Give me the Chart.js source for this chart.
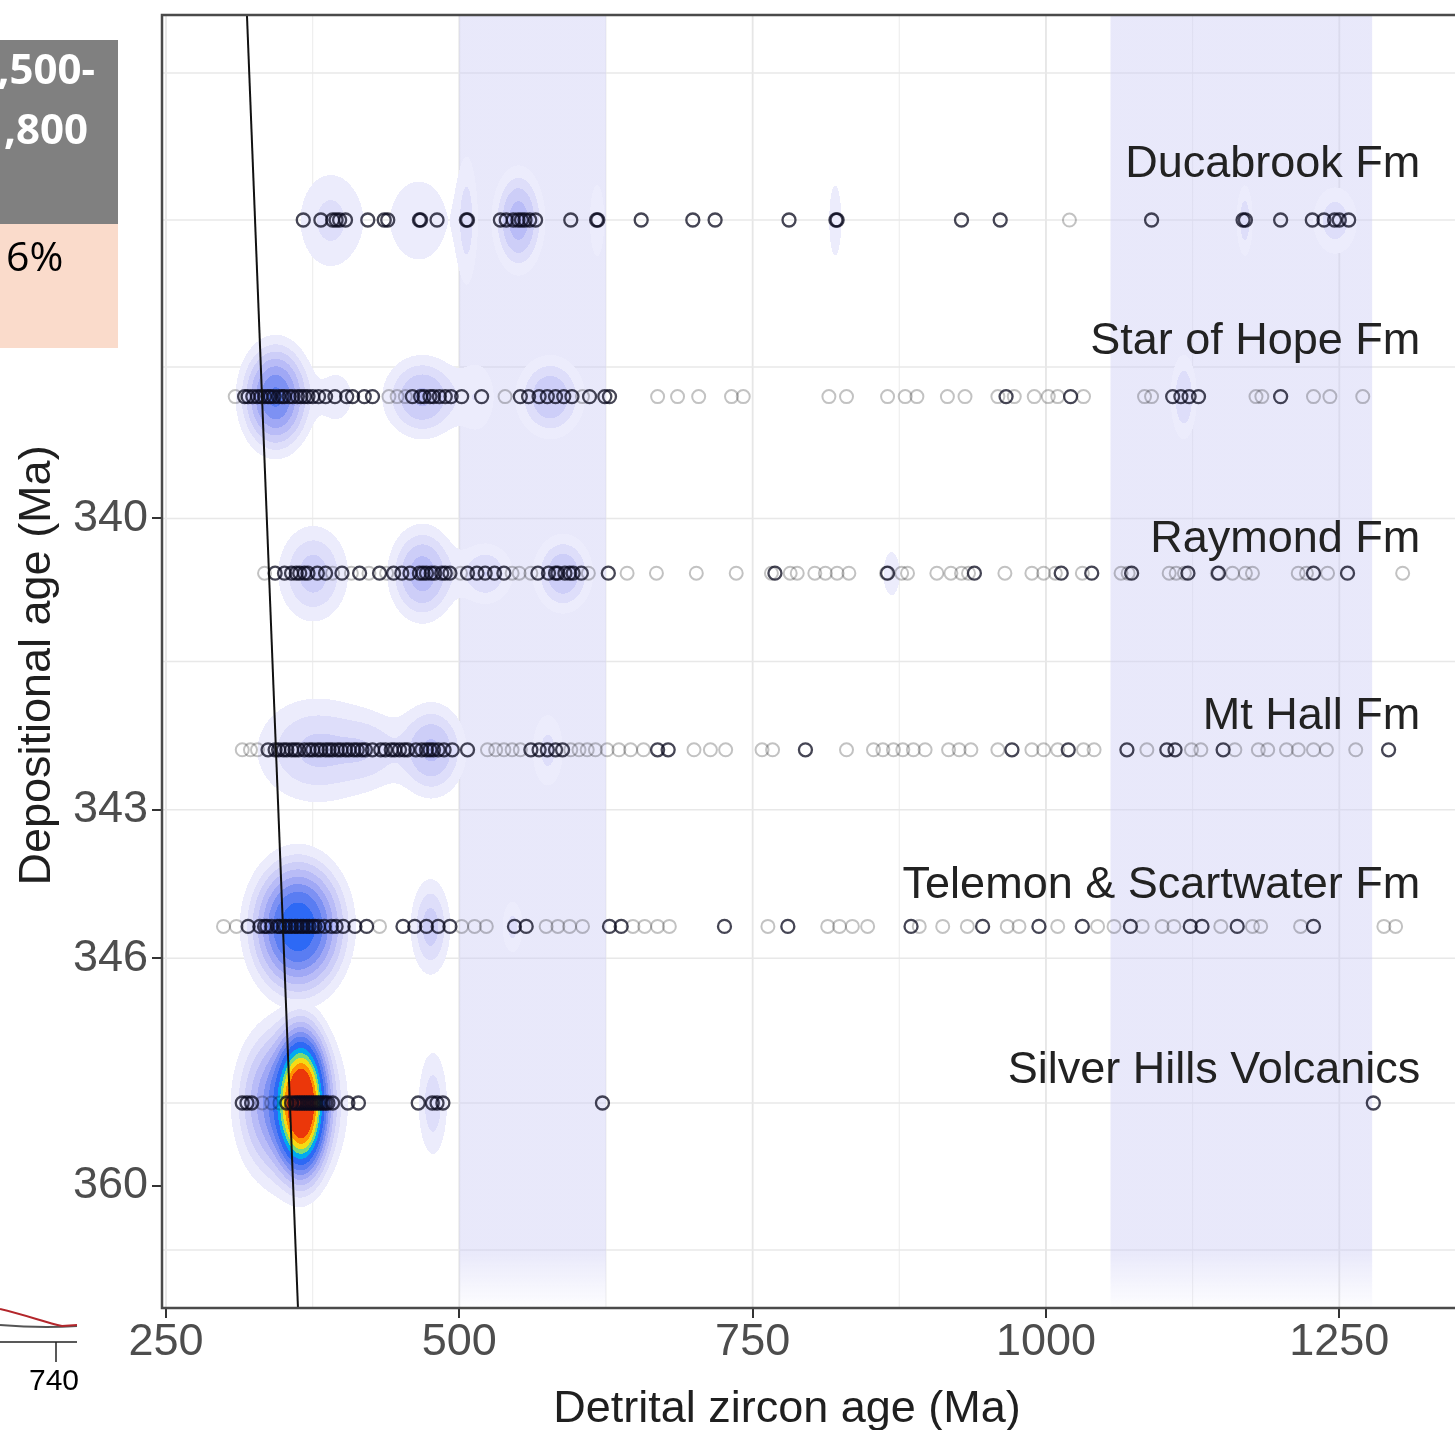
<!DOCTYPE html>
<html>
<head>
<meta charset="utf-8">
<title>Detrital zircon ages by formation</title>
<script src="https://cdn.jsdelivr.net/npm/chart.js@4.4.1/dist/chart.umd.min.js"></script>
<style>
  html, body { margin: 0; padding: 0; background: #fff; width: 1455px; height: 1430px; overflow: hidden; }
  #zirconChart { position: absolute; left: 0; top: 0; width: 1470px; height: 1430px; }
  #edge { position: absolute; left: 0; top: 0; }
</style>
</head>
<body>
<canvas id="zirconChart" width="1470" height="1430"></canvas>

<!-- neighbouring panel that runs into the left margin -->
<svg id="edge" width="170" height="1430">
  <rect x="0" y="40" width="118" height="184" fill="#808080"/>
  <rect x="0" y="224" width="118" height="124" fill="#fadbcb"/>
  <text x="95" y="84" text-anchor="end" font-family="Open Sans" font-weight="700" font-size="42" fill="#fff">1,500-</text>
  <text x="88" y="144" text-anchor="end" font-family="Open Sans" font-weight="700" font-size="42" fill="#fff">1,800</text>
  <text x="6" y="271" font-family="Open Sans" font-size="41" fill="#000">6%</text>
  <path d="M0,1325 C25,1327 45,1328 77,1326" stroke="#555" stroke-width="2" fill="none"/>
  <path d="M0,1309 C25,1315 45,1322 62,1326 L77,1325" stroke="#b3262b" stroke-width="2" fill="none"/>
  <line x1="0" y1="1342" x2="77" y2="1342" stroke="#222" stroke-width="1.5"/>
  <line x1="56" y1="1342" x2="56" y2="1362" stroke="#222" stroke-width="1.5"/>
  <text x="54" y="1390" text-anchor="middle" font-family="Liberation Sans" font-size="30" fill="#000">740</text>
</svg>

<script>
// formations, top to bottom (row index = y value)
const formations = ['Ducabrook Fm', 'Star of Hope Fm', 'Raymond Fm', 'Mt Hall Fm', 'Telemon & Scartwater Fm', 'Silver Hills Volcanics']

// depositional age axis: tick labels and where they sit in row units
const depTickLabels = ['340', '343', '346', '360']
const depTickRows = [1.69, 3.34, 4.18, 5.47]
const depGridRows = [-0.833, 0, 0.833, 1.69, 2.5, 3.34, 4.18, 5, 5.833]

// detrital zircon age axis (Ma)
const ageTicks = [250, 500, 750, 1000, 1250]
const ageGrid = [250, 375, 500, 625, 750, 875, 1000, 1125, 1250]

// shaded age windows (Ma)
const bandStart = [500, 1055]
const bandEnd = [625, 1278]

// 1:1 reference line, age at top and bottom of the panel
const refLineAge = [319, 362.5]
const refLineRow = [-1.161, 6.161]

// grain ages (Ma), well constrained and poorly constrained
const ducabrookDark = [367, 382, 392, 395, 398, 403, 422, 436, 439, 466, 467, 481, 506, 507, 535, 540, 546, 550, 553, 556, 560, 565, 595, 617, 618, 655, 699, 718, 781, 821, 822, 928, 961, 1090, 1168, 1170, 1200, 1227, 1237, 1246, 1250, 1258]
const ducabrookFaint = [1020]
const starDark = [317, 320, 324, 328, 331, 334, 337, 339, 342, 346, 349, 351, 355, 358, 362, 365, 368, 371, 375, 380, 386, 394, 404, 409, 419, 426, 460, 467, 470, 475, 478, 483, 488, 493, 502, 519, 552, 559, 568, 575, 582, 589, 596, 611, 624, 628, 966, 1021, 1108, 1115, 1122, 1130, 1200]
const starFaint = [309, 440, 447, 454, 539, 605, 669, 686, 704, 732, 742, 815, 830, 865, 880, 890, 916, 931, 959, 973, 990, 1002, 1010, 1032, 1084, 1090, 1179, 1184, 1228, 1242, 1270]
const raymondDark = [343, 351, 357, 361, 364, 368, 371, 379, 386, 400, 415, 432, 444, 451, 458, 466, 469, 472, 476, 479, 485, 488, 492, 507, 515, 522, 530, 538, 567, 576, 582, 584, 590, 594, 597, 604, 627, 769, 865, 939, 1013, 1039, 1073, 1121, 1147, 1228, 1257]
const raymondFaint = [334, 392, 408, 423, 438, 501, 545, 551, 561, 610, 643, 668, 702, 736, 766, 782, 788, 803, 812, 822, 832, 864, 877, 882, 907, 919, 928, 934, 965, 988, 998, 1008, 1031, 1064, 1070, 1105, 1111, 1118, 1146, 1159, 1170, 1176, 1215, 1222, 1240, 1304]
const mtHallDark = [337, 343, 346, 350, 353, 357, 360, 363, 368, 372, 375, 379, 382, 386, 389, 392, 396, 399, 403, 406, 410, 413, 417, 420, 426, 433, 437, 442, 445, 449, 453, 456, 463, 468, 472, 475, 478, 482, 487, 494, 507, 561, 568, 575, 582, 588, 669, 678, 795, 971, 1019, 1069, 1103, 1110, 1151, 1292]
const mtHallFaint = [315, 322, 328, 524, 531, 538, 545, 552, 595, 602, 609, 616, 626, 636, 646, 657, 700, 714, 727, 758, 767, 830, 853, 861, 870, 878, 887, 897, 917, 926, 936, 959, 988, 998, 1010, 1032, 1041, 1086, 1124, 1132, 1161, 1181, 1189, 1205, 1215, 1228, 1239, 1264]
const telemonDark = [320, 330, 334, 336, 340, 345, 347, 350, 352, 355, 357, 360, 362, 365, 367, 370, 372, 375, 377, 380, 385, 391, 395, 401, 411, 421, 452, 462, 472, 482, 492, 547, 557, 628, 638, 726, 780, 885, 946, 994, 1031, 1072, 1123, 1133, 1163, 1228]
const telemonFaint = [299, 310, 432, 502, 513, 523, 574, 584, 594, 605, 648, 658, 669, 679, 763, 814, 824, 835, 848, 892, 912, 933, 967, 977, 1010, 1044, 1058, 1082, 1099, 1109, 1149, 1176, 1183, 1217, 1288, 1298]
const silverDark = [315, 319, 323, 353, 357, 360, 362, 364, 366, 368, 370, 372, 374, 376, 378, 380, 382, 384, 386, 388, 392, 405, 414, 465, 477, 481, 486, 622, 1279]
const silverFaint = [332, 340, 347]

// density kernels per formation: [age Ma, sd Ma, sd rows, peak]
const ducabrookBlobs = [[390, 19, 0.19, 0.03], [465, 21, 0.2, 0.022], [506, 6.3, 0.26, 0.03], [550, 12, 0.163, 0.075], [617, 6, 0.2, 0.02], [820, 5.7, 0.22, 0.018], [1169, 4.7, 0.136, 0.035], [1246, 12.8, 0.128, 0.035]]
const starBlobs = [[343, 15, 0.155, 0.16], [395, 12, 0.12, 0.02], [468, 18.5, 0.13, 0.065], [515, 11.6, 0.155, 0.022], [577, 16.6, 0.133, 0.06], [1117, 7.2, 0.154, 0.04]]
const raymondBlobs = [[375, 17.6, 0.16, 0.05], [468, 15.6, 0.148, 0.075], [522, 14.8, 0.11, 0.04], [588, 14.3, 0.126, 0.06], [868, 6.8, 0.12, 0.02]]
const mtHallBlobs = [[378, 31, 0.18, 0.045], [425, 18, 0.13, 0.025], [476, 16.2, 0.148, 0.065], [575, 9.5, 0.147, 0.03]]
const telemonBlobs = [[362, 20, 0.19, 0.26], [475, 10, 0.16, 0.05], [545, 6.3, 0.105, 0.03]]
const silverBlobs = [[365, 10.2, 0.187, 0.86], [360, 20, 0.23, 0.14], [338, 17, 0.22, 0.06], [477, 8.2, 0.195, 0.035]]

// contour breaks and fill colours
const densityBreaks = [0.012, 0.025, 0.04, 0.06, 0.085, 0.115, 0.15, 0.2, 0.27, 0.34, 0.41, 0.5, 0.6]
const densityColors = [
  [236, 236, 252], [222, 222, 250], [205, 206, 248], [185, 188, 247], [160, 168, 245],
  [125, 145, 243], [90, 125, 242], [45, 105, 245], [0, 170, 240], [120, 220, 120],
  [245, 220, 20], [255, 145, 0], [235, 55, 10],
]

// label lift above each row, in row units
const labelLift = [0.243, 0.243, 0.119, 0.119, 0.159, 0.113]
const labelAge = 1319

const darkSets = [ducabrookDark, starDark, raymondDark, mtHallDark, telemonDark, silverDark]
const faintSets = [ducabrookFaint, starFaint, raymondFaint, mtHallFaint, telemonFaint, silverFaint]
const blobSets = [ducabrookBlobs, starBlobs, raymondBlobs, mtHallBlobs, telemonBlobs, silverBlobs]

const FONT = "'Liberation Sans', Arial, sans-serif"

function line(ctx, x1, y1, x2, y2) {
  ctx.beginPath()
  ctx.moveTo(x1, y1)
  ctx.lineTo(x2, y2)
  ctx.stroke()
}

// grid, shaded windows and density contours under the points
const backdrop = {
  id: 'backdrop',
  beforeDatasetsDraw(chart) {
    const { ctx, chartArea: a, scales: { x, y } } = chart
    ctx.save()
    ctx.beginPath()
    ctx.rect(a.left, a.top, a.width, a.height)
    ctx.clip()

    ageGrid.forEach((v, i) => {
      ctx.strokeStyle = i % 2 === 0 ? '#e6e6e6' : '#efefef'
      ctx.lineWidth = i % 2 === 0 ? 1.8 : 1.2
      const p = x.getPixelForValue(v)
      line(ctx, p, a.top, p, a.bottom)
    })
    depGridRows.forEach(v => {
      ctx.strokeStyle = '#e8e8e8'
      ctx.lineWidth = 1.5
      const p = y.getPixelForValue(v)
      line(ctx, a.left, p, a.right, p)
    })

    const fade = ctx.createLinearGradient(0, a.top, 0, a.bottom)
    fade.addColorStop(0, 'rgba(205,205,245,0.45)')
    fade.addColorStop(0.955, 'rgba(205,205,245,0.45)')
    fade.addColorStop(1, 'rgba(205,205,245,0.04)')
    ctx.fillStyle = fade
    bandStart.forEach((s, i) => {
      const x0 = x.getPixelForValue(s)
      const x1 = x.getPixelForValue(bandEnd[i])
      ctx.fillRect(x0, a.top, x1 - x0, a.height)
    })

    // kernel density rasterised row by row
    const w = Math.ceil(a.width)
    const h = Math.ceil(a.height)
    const off = document.createElement('canvas')
    off.width = w
    off.height = h
    const octx = off.getContext('2d')
    const img = octx.createImageData(w, h)
    const data = img.data
    const rowPx = Math.abs(y.getPixelForValue(1) - y.getPixelForValue(0))
    const maPx = x.getPixelForValue(1) - x.getPixelForValue(0)

    blobSets.forEach((blobs, r) => {
      const cy = y.getPixelForValue(r) - a.top
      const ks = blobs.map(b => ({
        cx: x.getPixelForValue(b[0]) - a.left,
        sx: b[1] * maPx,
        sy: b[2] * rowPx,
        p: b[3],
      }))
      const y0 = Math.max(0, Math.floor(cy - 0.6 * rowPx))
      const y1 = Math.min(h, Math.ceil(cy + 0.6 * rowPx))
      for (let py = y0; py < y1; py++) {
        for (let px = 0; px < w; px++) {
          let d = 0
          for (const k of ks) {
            const dx = (px - k.cx) / k.sx
            const dy = (py - cy) / k.sy
            const q = dx * dx + dy * dy
            if (q < 30) d += k.p * Math.exp(-0.5 * q)
          }
          let lv = -1
          while (lv + 1 < densityBreaks.length && d >= densityBreaks[lv + 1]) lv++
          if (lv < 0) continue
          const c = densityColors[lv]
          const i = (py * w + px) * 4
          data[i] = c[0]
          data[i + 1] = c[1]
          data[i + 2] = c[2]
          data[i + 3] = 255
        }
      }
    })
    octx.putImageData(img, 0, 0)
    ctx.drawImage(off, a.left, a.top)
    ctx.restore()
  },
}

// panel border, formation names and axis titles
const overlay = {
  id: 'overlay',
  afterDatasetsDraw(chart) {
    const { ctx, chartArea: a, scales: { x, y } } = chart
    ctx.save()
    ctx.font = `45px ${FONT}`
    ctx.fillStyle = '#222'
    ctx.textAlign = 'right'
    ctx.textBaseline = 'alphabetic'
    formations.forEach((name, r) => {
      ctx.fillText(name, x.getPixelForValue(labelAge), y.getPixelForValue(r - labelLift[r]))
    })

    ctx.strokeStyle = '#4a4a4a'
    ctx.lineWidth = 2.5
    ctx.strokeRect(a.left, a.top, a.width, a.height)

    ctx.fillStyle = '#1f1f1f'
    ctx.textAlign = 'center'
    ctx.fillText('Detrital zircon age (Ma)', 787, 1422)
    ctx.translate(50, (a.top + a.bottom) / 2 + 4)
    ctx.rotate(-Math.PI / 2)
    ctx.fillText('Depositional age (Ma)', 0, 0)
    ctx.restore()
  },
}

const datasets = [{
  type: 'line',
  label: '1:1',
  data: refLineAge.map((v, i) => ({ x: v, y: refLineRow[i] })),
  borderColor: '#111',
  borderWidth: 2,
  pointRadius: 0,
  fill: false,
  order: 0,
}]

formations.forEach((name, r) => {
  datasets.push({
    label: name + ' (faint)',
    data: faintSets[r].map(v => ({ x: v, y: r })),
    borderColor: 'rgba(0, 0, 0, 0.24)',
    backgroundColor: 'rgba(0, 0, 0, 0)',
    borderWidth: 2,
    pointRadius: 6.5,
    order: 2,
  })
  datasets.push({
    label: name,
    data: darkSets[r].map(v => ({ x: v, y: r })),
    borderColor: 'rgba(10, 10, 30, 0.76)',
    backgroundColor: 'rgba(0, 0, 0, 0)',
    borderWidth: 2.3,
    pointRadius: 6.5,
    order: 1,
  })
})

// no edge padding from tick labels: keep the panel where the layout puts it
function noPadding(s) {
  s.paddingLeft = 0
  s.paddingRight = 0
  s.paddingTop = 0
  s.paddingBottom = 0
}

new Chart(document.getElementById('zirconChart'), {
  type: 'scatter',
  data: { datasets: datasets },
  options: {
    responsive: false,
    animation: false,
    events: [],
    layout: { autoPadding: false, padding: { left: 0, top: 15, right: 0, bottom: 0 } },
    plugins: { legend: { display: false }, tooltip: { enabled: false } },
    scales: {
      x: {
        type: 'linear',
        min: 246.6,
        max: 1361.4,
        afterBuildTicks: s => { s.ticks = ageTicks.map(v => ({ value: v })) },
        afterFit: s => { s.height = 122; noPadding(s) },
        grid: { drawOnChartArea: false, drawTicks: true, tickLength: 10, color: '#333', lineWidth: 2 },
        border: { display: false },
        ticks: {
          color: '#4d4d4d',
          font: { family: FONT, size: 45, lineHeight: 1 },
          padding: 2,
          autoSkip: false,
          maxRotation: 0,
          callback: v => String(v),
        },
      },
      y: {
        type: 'linear',
        reverse: true,
        min: refLineRow[0],
        max: refLineRow[1],
        afterBuildTicks: s => { s.ticks = depTickRows.map(v => ({ value: v })) },
        afterFit: s => { s.width = 162; noPadding(s) },
        grid: { drawOnChartArea: false, drawTicks: true, tickLength: 10, color: '#333', lineWidth: 2 },
        border: { display: false },
        ticks: {
          color: '#4d4d4d',
          font: { family: FONT, size: 45, lineHeight: 1 },
          padding: 4,
          autoSkip: false,
          callback: (v, i) => depTickLabels[i],
        },
      },
    },
  },
  plugins: [backdrop, overlay],
})
</script>
</body>
</html>
